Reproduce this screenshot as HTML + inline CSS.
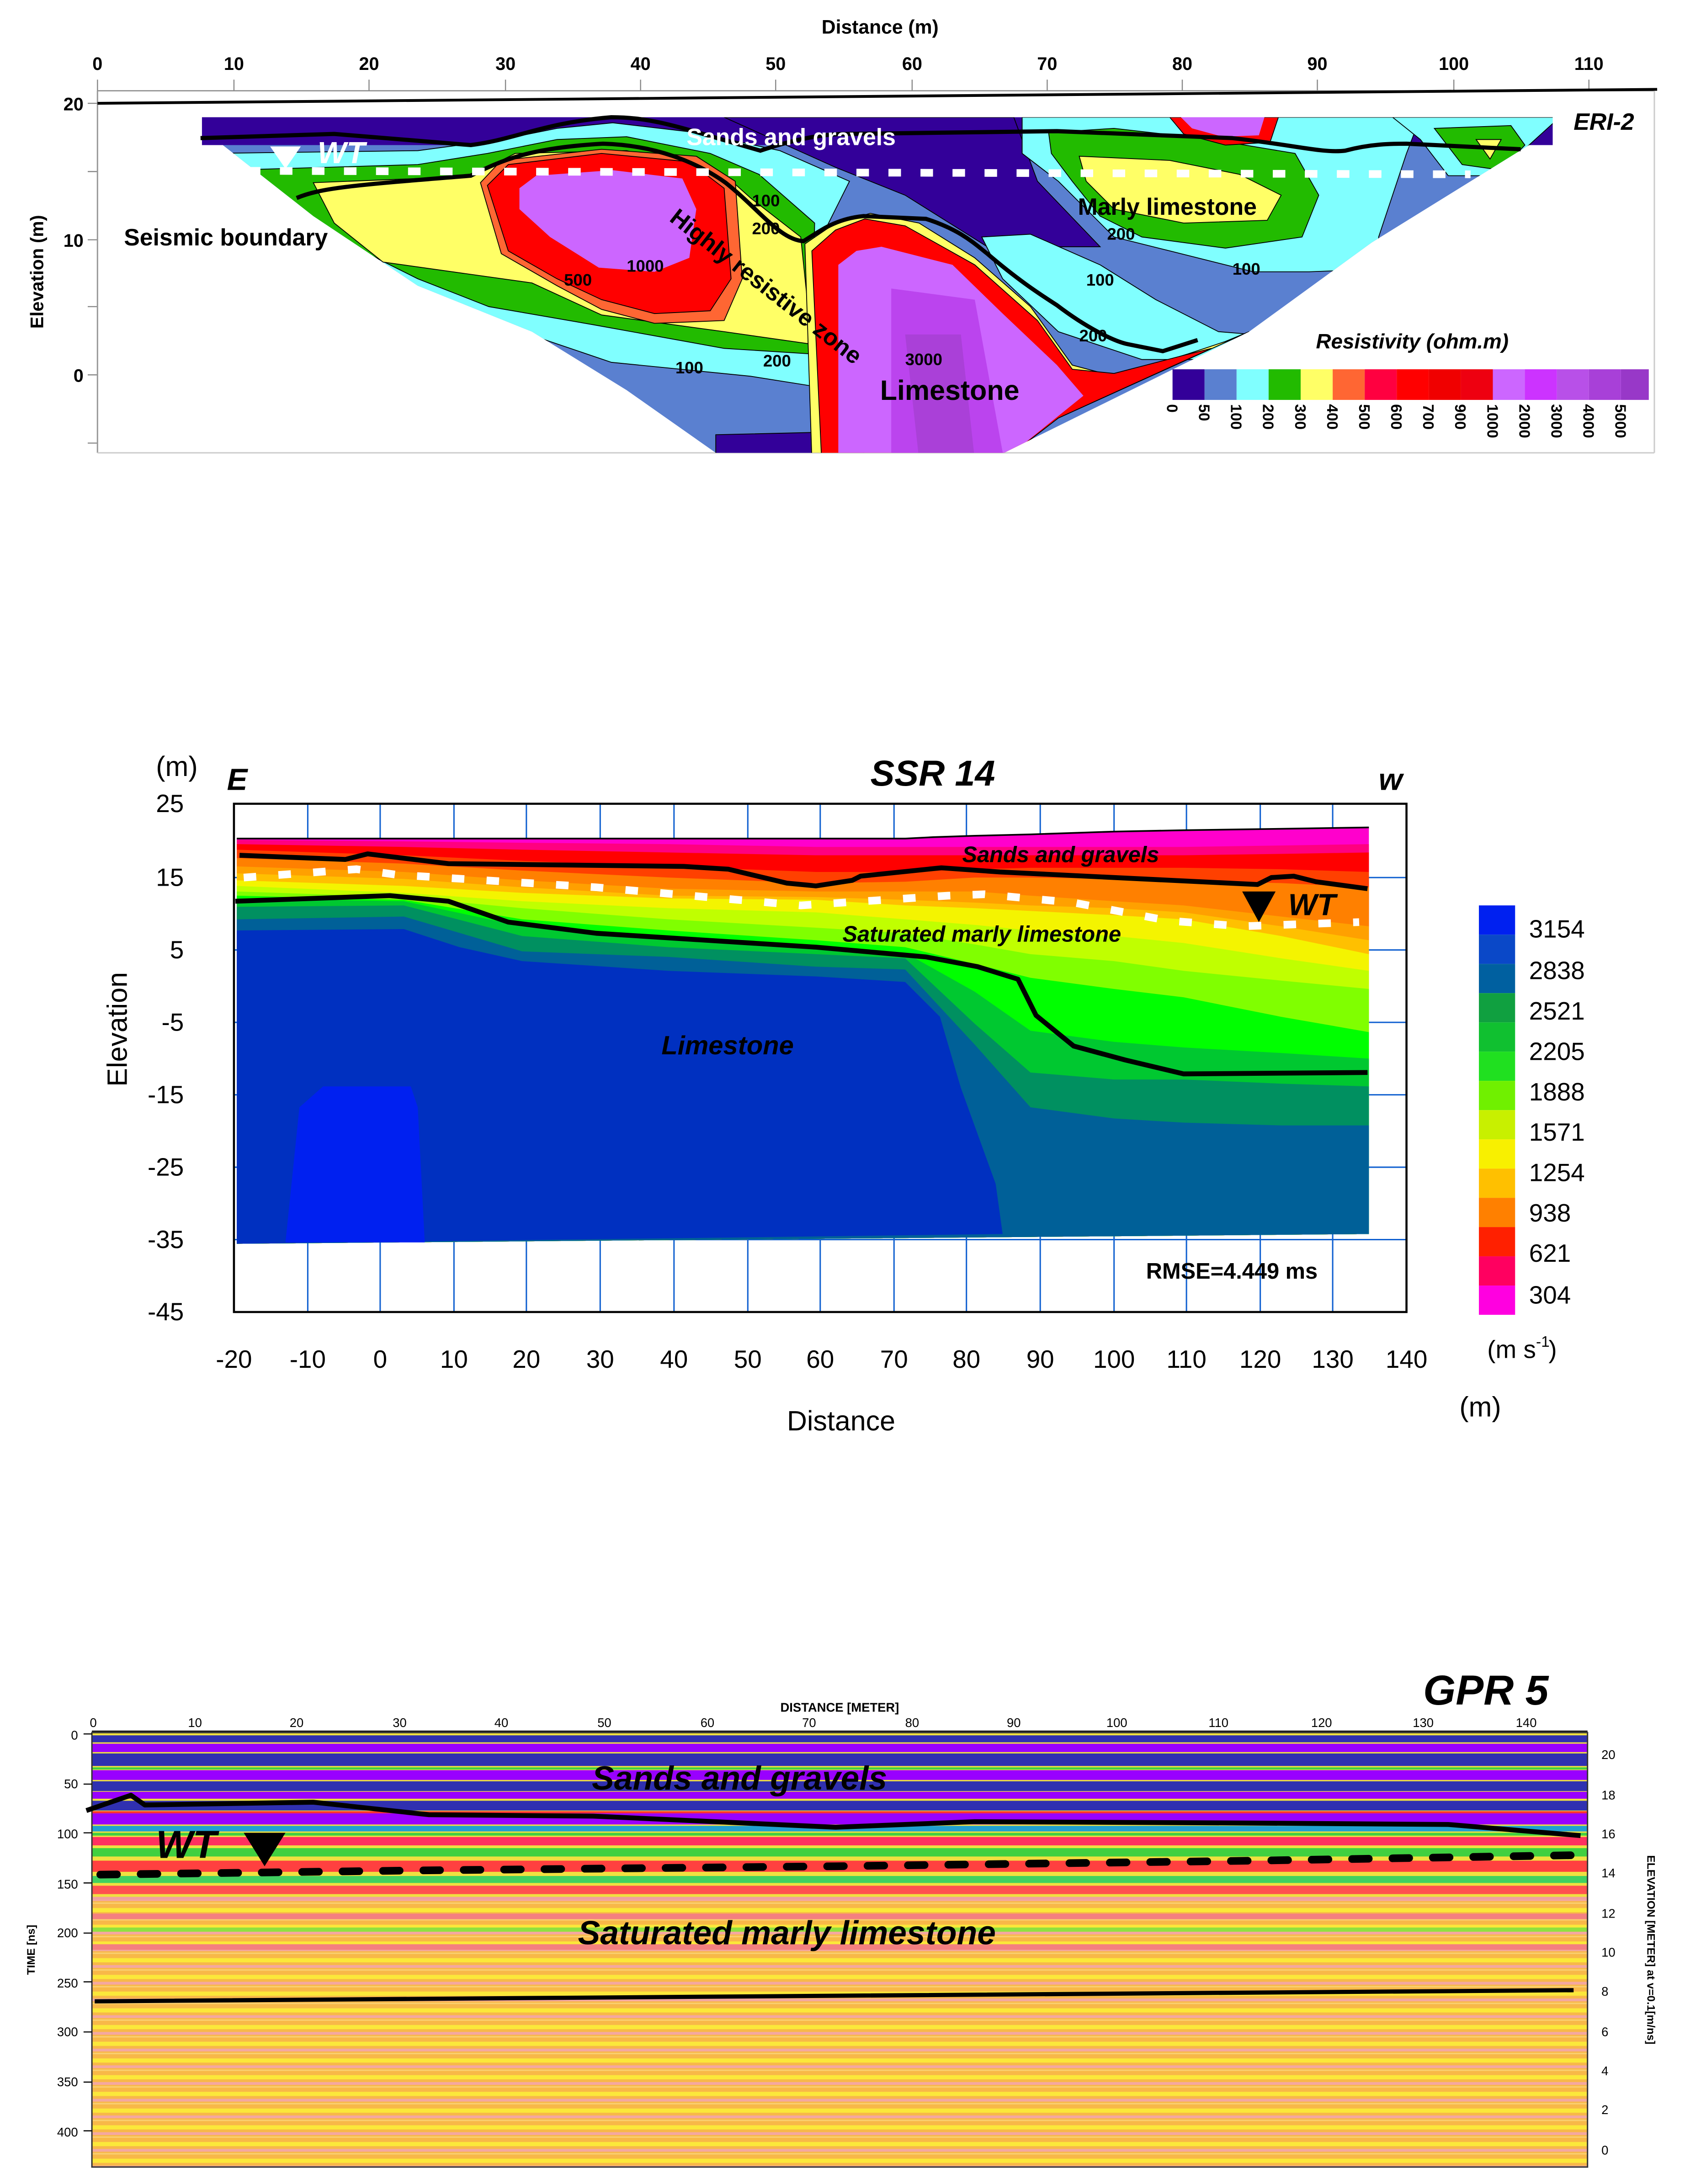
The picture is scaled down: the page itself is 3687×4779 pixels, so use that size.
<!DOCTYPE html>
<html><head><meta charset="utf-8"><style>
html,body{margin:0;padding:0;background:#fff}
svg{display:block}
text{font-family:"Liberation Sans",sans-serif}
</style></head><body>
<svg width="3687" height="4779" viewBox="0 0 1210 1568" xmlns="http://www.w3.org/2000/svg">
<defs>
<pattern id="gprBot" width="20" height="12" patternUnits="userSpaceOnUse">
<rect width="20" height="12" fill="#f8b848"/>
<rect y="2" width="20" height="3" fill="#fbe83a"/>
<rect y="7" width="20" height="2" fill="#f4a8a0"/>
<rect y="10" width="20" height="1" fill="#fad070"/>
</pattern>
<clipPath id="sec"><polygon points="145,84 1115,84 1115,104 1098,104 985,174 897,238 721,325 514,325 450,280 382,238 300,205 225,155 160,104 145,104"/></clipPath>
</defs>

<!-- PANEL 1 -->
<text x="632" y="24" font-size="14" font-weight="bold" text-anchor="middle">Distance (m)</text>
<g font-size="13" font-weight="bold" text-anchor="middle">
<text x="70" y="50">0</text><text x="168" y="50">10</text><text x="265" y="50">20</text><text x="363" y="50">30</text><text x="460" y="50">40</text><text x="557" y="50">50</text><text x="655" y="50">60</text><text x="752" y="50">70</text><text x="849" y="50">80</text><text x="946" y="50">90</text><text x="1044" y="50">100</text><text x="1141" y="50">110</text>
</g>
<g stroke="#888" stroke-width="0.8">
<line x1="70" y1="65" x2="1188" y2="65"/>
<line x1="70" y1="57" x2="70" y2="65"/><line x1="168" y1="57" x2="168" y2="65"/><line x1="265" y1="57" x2="265" y2="65"/><line x1="363" y1="57" x2="363" y2="65"/><line x1="460" y1="57" x2="460" y2="65"/><line x1="557" y1="57" x2="557" y2="65"/><line x1="655" y1="57" x2="655" y2="65"/><line x1="752" y1="57" x2="752" y2="65"/><line x1="849" y1="57" x2="849" y2="65"/><line x1="946" y1="57" x2="946" y2="65"/><line x1="1044" y1="57" x2="1044" y2="65"/><line x1="1141" y1="57" x2="1141" y2="65"/>
<line x1="63" y1="74" x2="70" y2="74"/><line x1="63" y1="172" x2="70" y2="172"/><line x1="63" y1="269" x2="70" y2="269"/>
<line x1="63" y1="123" x2="70" y2="123"/><line x1="63" y1="220" x2="70" y2="220"/><line x1="63" y1="318" x2="70" y2="318"/>
</g>
<g font-size="13" font-weight="bold" text-anchor="end">
<text x="60" y="79">20</text><text x="60" y="177">10</text><text x="60" y="274">0</text>
</g>
<text transform="translate(31,195) rotate(-90)" font-size="13" font-weight="bold" text-anchor="middle">Elevation (m)</text>
<line x1="70" y1="65" x2="70" y2="325" stroke="#999" stroke-width="1"/>
<line x1="70" y1="325" x2="1188" y2="325" stroke="#ccc" stroke-width="1"/>
<line x1="1188" y1="65" x2="1188" y2="325" stroke="#ccc" stroke-width="1"/>
<line x1="70" y1="74" x2="1190" y2="64" stroke="#000" stroke-width="2"/>
<g clip-path="url(#sec)" stroke="#000" stroke-width="0.6">
<rect x="140" y="80" width="1000" height="250" fill="#5a80d0" stroke="none"/>
<rect x="140" y="80" width="1000" height="24" fill="#330099" stroke="none"/>
<polygon points="520,84 728,84 745,130 790,177 709,177 650,140 600,120" fill="#330099"/>
<polygon points="514,312 600,310 627,330 514,330" fill="#330099"/>
<polygon points="150,110 300,108 360,100 400,92 440,88 500,95 560,108 610,130 590,170 585,200 583,277 539,270 439,260 380,240 300,210 225,160 160,115" fill="#80ffff"/>
<polygon points="165,122 300,118 350,110 400,100 450,98 510,110 545,125 585,160 583,254 520,250 426,233 351,220 300,200 230,165" fill="#22bb00"/>
<polygon points="225,131 300,128 338,126 370,110 450,108 520,125 539,142 575,170 583,247 520,238 432,226 382,203 275,188 240,160" fill="#ffff66"/>
<polygon points="345,131 360,115 432,107 500,112 528,130 533,200 520,230 470,232 432,222 400,205 360,182" fill="#ff6633"/>
<polygon points="350,133 365,118 432,110 495,116 520,135 525,200 510,223 470,225 432,215 400,200 365,180" fill="#ff0000"/>
<polygon points="373,135 385,126 440,122 490,128 500,150 495,185 470,195 430,192 395,170 373,150" fill="#cc66ff" stroke="none"/>
<polygon points="734,84 1020,84 1010,110 990,170 991,193 940,195 900,195 840,180 800,170 780,150 760,130 734,110" fill="#80ffff"/>
<polygon points="705,170 740,168 790,190 830,215 875,238 900,240 870,258 820,258 760,238 720,200" fill="#80ffff"/>
<polygon points="753,95 800,92 870,100 930,110 947,140 935,170 880,178 820,170 790,155 770,130 755,110" fill="#22bb00"/>
<polygon points="775,112 840,115 890,125 920,140 910,158 850,160 800,150 780,130" fill="#ffff66"/>
<polygon points="1000,84 1120,84 1098,104 1075,126 1040,126 1020,100" fill="#80ffff"/>
<polygon points="1030,92 1085,90 1095,104 1078,122 1050,118" fill="#22bb00"/>
<polygon points="1060,100 1078,100 1070,114" fill="#ffff66"/>
<polygon points="840,84 918,84 912,102 880,104 850,96" fill="#ff0000"/>
<polygon points="848,84 908,84 904,97 878,98 856,92" fill="#cc66ff" stroke="none"/>
<polygon points="578,175 600,160 625,153 660,160 700,185 740,220 770,262 800,270 853,254 880,245 897,238 760,300 721,330 583,330" fill="#ffff66"/>
<polygon points="583,180 600,165 621,157 650,162 700,190 745,230 770,265 800,268 850,255 870,250 760,300 721,330 590,330" fill="#ff0000"/>
<polygon points="602,190 615,180 633,177 684,190 720,225 759,262 778,284 721,330 602,330" fill="#cc66ff" stroke="none"/>
<polygon points="640,207 700,215 721,330 640,330" fill="#bb44ee" stroke="none"/>
<polygon points="650,240 690,240 700,330 660,330" fill="#aa40d8" stroke="none"/>
</g>
<g fill="none" stroke="#000" stroke-width="3">
<path d="M144,99 L240,96 L338,104 C370,100 390,88 439,84 C470,84 490,92 546,108 C570,100 590,96 608,96 L759,94 L885,99 C930,104 950,110 966,108 C985,103 1000,103 1010,103 L1092,107"/>
<path d="M213,142 C230,135 250,133 338,126 C360,115 380,106 433,103 C470,104 500,116 521,131 C545,150 560,172 577,173 C590,165 600,157 620,155 L665,157 C690,165 700,175 709,182 C730,200 745,210 759,219 C780,235 800,245 810,247 L835,252 L860,244"/>
</g>
<line x1="178" y1="122.5" x2="1056" y2="125" stroke="#fff" stroke-width="5.5" stroke-dasharray="9,14"/>
<polygon points="194,105 216,105 205,121" fill="#fff"/>
<text x="228" y="117" font-size="22" font-style="italic" font-weight="bold" fill="#fff" font-family="Liberation Serif">WT</text>
<g font-weight="bold" font-size="17">
<text x="89" y="176">Seismic boundary</text>
<text x="493" y="104" fill="#fff">Sands and gravels</text>
<text x="774" y="154">Marly limestone</text>
<text x="632" y="287" font-size="20">Limestone</text>
<text transform="translate(480,158) rotate(38)">Highly resistive zone</text>
</g>
<text x="1130" y="93" font-size="17" font-weight="bold" font-style="italic" font-family="Liberation Serif">ERI-2</text>
<text x="945" y="250" font-size="15" font-weight="bold" font-style="italic" font-family="Liberation Serif">Resistivity (ohm.m)</text>
<g font-size="12" font-weight="bold" font-family="Liberation Serif">
<text x="450" y="195">1000</text><text x="540" y="148">100</text><text x="540" y="168">200</text><text x="485" y="268">100</text><text x="548" y="263">200</text><text x="650" y="262">3000</text><text x="885" y="197">100</text><text x="780" y="205">100</text><text x="795" y="172">200</text><text x="775" y="245">200</text><text x="405" y="205">500</text>
</g>
<g>
<rect x="842" y="265" width="23" height="22" fill="#330099"/><rect x="865" y="265" width="23" height="22" fill="#5a80d0"/><rect x="888" y="265" width="23" height="22" fill="#80ffff"/><rect x="911" y="265" width="23" height="22" fill="#22bb00"/><rect x="934" y="265" width="23" height="22" fill="#ffff66"/><rect x="957" y="265" width="23" height="22" fill="#ff6633"/><rect x="980" y="265" width="23" height="22" fill="#ff0040"/><rect x="1003" y="265" width="23" height="22" fill="#ff0000"/><rect x="1026" y="265" width="23" height="22" fill="#f00000"/><rect x="1049" y="265" width="23" height="22" fill="#ee0010"/><rect x="1072" y="265" width="23" height="22" fill="#cc66ff"/><rect x="1095" y="265" width="23" height="22" fill="#cc33ff"/><rect x="1118" y="265" width="23" height="22" fill="#b850e8"/><rect x="1141" y="265" width="23" height="22" fill="#a840d8"/><rect x="1164" y="265" width="20" height="22" fill="#9838c8"/>
</g>
<g font-size="11" font-weight="bold" font-family="Liberation Serif">
<text transform="translate(838,290) rotate(90)">0</text><text transform="translate(861,290) rotate(90)">50</text><text transform="translate(884,290) rotate(90)">100</text><text transform="translate(907,290) rotate(90)">200</text><text transform="translate(930,290) rotate(90)">300</text><text transform="translate(953,290) rotate(90)">400</text><text transform="translate(976,290) rotate(90)">500</text><text transform="translate(999,290) rotate(90)">600</text><text transform="translate(1022,290) rotate(90)">700</text><text transform="translate(1045,290) rotate(90)">900</text><text transform="translate(1068,290) rotate(90)">1000</text><text transform="translate(1091,290) rotate(90)">2000</text><text transform="translate(1114,290) rotate(90)">3000</text><text transform="translate(1137,290) rotate(90)">4000</text><text transform="translate(1160,290) rotate(90)">5000</text>
</g>

<!-- PANEL 2 -->
<g stroke="#1060d0" stroke-width="1">
<line x1="221" y1="577" x2="221" y2="942"/><line x1="273" y1="577" x2="273" y2="942"/><line x1="326" y1="577" x2="326" y2="942"/><line x1="378" y1="577" x2="378" y2="942"/><line x1="431" y1="577" x2="431" y2="942"/><line x1="484" y1="577" x2="484" y2="942"/><line x1="537" y1="577" x2="537" y2="942"/><line x1="589" y1="577" x2="589" y2="942"/><line x1="642" y1="577" x2="642" y2="942"/><line x1="694" y1="577" x2="694" y2="942"/><line x1="747" y1="577" x2="747" y2="942"/><line x1="800" y1="577" x2="800" y2="942"/><line x1="852" y1="577" x2="852" y2="942"/><line x1="905" y1="577" x2="905" y2="942"/><line x1="957" y1="577" x2="957" y2="942"/>
<line x1="168" y1="630" x2="1010" y2="630"/><line x1="168" y1="682" x2="1010" y2="682"/><line x1="168" y1="734" x2="1010" y2="734"/><line x1="168" y1="786" x2="1010" y2="786"/><line x1="168" y1="838" x2="1010" y2="838"/><line x1="168" y1="890" x2="1010" y2="890"/>
</g>
<rect x="168" y="577" width="842" height="365" fill="none" stroke="#000" stroke-width="1.5"/>
<g>
<polygon points="170,602 290,602 375,602 480,602 586,602 650,602 700,600 740,599 800,597 850,596 920,595 983,594 983,886 170,893" fill="#ff00cc"/>
<polygon points="170,603 290,604 375,605 480,606 586,608 650,608 700,608 740,608 800,608 850,608 920,607 983,606 983,886 170,893" fill="#ff0080"/>
<polygon points="170,606 290,608 375,610 480,612 586,614 650,614 700,614 740,614 800,614 850,614 920,613 983,612 983,886 170,893" fill="#ff0000"/>
<polygon points="170,610 290,614 375,618 480,622 586,626 650,626 700,624 740,623 800,623 850,623 920,624 983,626 983,886 170,893" fill="#ff4000"/>
<polygon points="170,616 290,620 375,625 480,630 586,634 650,633 700,630 740,630 800,631 850,632 920,634 983,637 983,886 170,893" fill="#ff8000"/>
<polygon points="170,622 290,626 375,632 480,638 586,640 650,640 700,640 740,643 800,647 850,650 920,658 983,665 983,886 170,893" fill="#ffa000"/>
<polygon points="170,627 290,631 375,637 480,643 586,644 650,646 700,648 740,650 800,652 850,655 920,665 983,675 983,886 170,893" fill="#ffc000"/>
<polygon points="170,632 290,636 375,641 480,645 586,646 650,650 700,652 740,654 800,657 850,660 920,672 983,685 983,886 170,893" fill="#f4f400"/>
<polygon points="170,636 290,641 375,647 480,652 586,655 650,660 700,664 740,668 800,672 850,677 920,688 983,697 983,886 170,893" fill="#c0ff00"/>
<polygon points="170,640 290,644 375,652 480,660 586,666 650,670 700,678 740,685 800,690 850,697 920,704 983,710 983,886 170,893" fill="#80ff00"/>
<polygon points="170,643 290,646 375,660 480,668 586,675 650,680 700,692 740,702 800,710 850,716 920,730 983,741 983,886 170,893" fill="#00ff00"/>
<polygon points="170,645 290,647 375,665 480,674 586,680 650,684 700,712 740,740 800,748 850,752 920,756 983,760 983,886 170,893" fill="#00c830"/>
<polygon points="170,651 290,650 375,672 480,680 586,685 650,688 700,735 740,770 800,775 850,775 920,778 983,780 983,886 170,893" fill="#009060"/>
<polygon points="170,660 290,658 375,683 480,687 586,694 650,696 700,750 740,795 800,803 850,806 920,808 983,808 983,886 170,893" fill="#006098"/>
<polygon points="170,668 290,667 330,680 375,690 480,697 586,701 650,705 675,730 690,781 715,850 720,886 170,893" fill="#0030c0"/>
<polygon points="215,795 232,780 295,780 300,795 305,892 205,892" fill="#0020f0"/>
</g>
<polyline points="170,602 650,602 670,601 700,600 740,599 800,597 850,596 920,595 983,594" fill="none" stroke="#000" stroke-width="1.2"/>
<g fill="none" stroke="#000" stroke-width="3.5" stroke-linejoin="round">
<polyline points="172,614 248,617 264,613 322,620 491,622 523,624 565,634 586,636 612,632 618,629 676,623 718,626 903,635 913,630 929,629 945,633 982,638"/>
<polyline points="169,647 280,643 322,647 365,662 428,670 586,680 665,687 702,694 731,703 744,729 771,751 808,761 850,771 982,770"/>
</g>
<polyline points="175,630 256,624 285,628 428,637 575,650 681,643 707,642 771,648 839,661 892,665 976,662" fill="none" stroke="#fff" stroke-width="5.5" stroke-dasharray="9,16"/>
<polygon points="892,640 916,640 904,662" fill="#000"/>
<text x="925" y="657" font-size="22" font-weight="bold" font-style="italic">WT</text>
<g font-weight="bold" font-style="italic">
<text x="691" y="619" font-size="16">Sands and gravels</text>
<text x="605" y="676" font-size="16">Saturated marly limestone</text>
<text x="475" y="757" font-size="19">Limestone</text>
</g>
<text x="823" y="918" font-size="16" font-weight="bold">RMSE=4.449 ms</text>
<text x="625" y="564" font-size="26" font-weight="bold" font-style="italic" font-family="Liberation Serif">SSR 14</text>
<text x="163" y="567" font-size="22" font-weight="bold" font-style="italic">E</text>
<text x="990" y="567" font-size="22" font-weight="bold" font-style="italic">w</text>
<text x="112" y="557" font-size="20" font-family="Liberation Mono">(m)</text>
<g font-size="18" font-family="Liberation Serif" text-anchor="end">
<text x="132" y="583">25</text><text x="132" y="636">15</text><text x="132" y="688">5</text><text x="132" y="740">-5</text><text x="132" y="792">-15</text><text x="132" y="844">-25</text><text x="132" y="896">-35</text><text x="132" y="948">-45</text>
</g>
<g font-size="18" font-family="Liberation Serif" text-anchor="middle">
<text x="168" y="982">-20</text><text x="221" y="982">-10</text><text x="273" y="982">0</text><text x="326" y="982">10</text><text x="378" y="982">20</text><text x="431" y="982">30</text><text x="484" y="982">40</text><text x="537" y="982">50</text><text x="589" y="982">60</text><text x="642" y="982">70</text><text x="694" y="982">80</text><text x="747" y="982">90</text><text x="800" y="982">100</text><text x="852" y="982">110</text><text x="905" y="982">120</text><text x="957" y="982">130</text><text x="1010" y="982">140</text>
</g>
<text x="604" y="1027" font-size="20" font-family="Liberation Mono" text-anchor="middle">Distance</text>
<text transform="translate(91,739) rotate(-90)" font-size="20" font-family="Liberation Mono" text-anchor="middle">Elevation</text>
<text x="1048" y="1017" font-size="20" font-family="Liberation Mono">(m)</text>
<g>
<rect x="1062" y="650" width="26" height="21" fill="#0020f0"/><rect x="1062" y="671" width="26" height="21" fill="#0a48c8"/><rect x="1062" y="692" width="26" height="21" fill="#0060a0"/><rect x="1062" y="713" width="26" height="21" fill="#10a040"/><rect x="1062" y="734" width="26" height="21" fill="#10c030"/><rect x="1062" y="755" width="26" height="21" fill="#20e020"/><rect x="1062" y="776" width="26" height="21" fill="#70f000"/><rect x="1062" y="797" width="26" height="21" fill="#c8f000"/><rect x="1062" y="818" width="26" height="21" fill="#f8f000"/><rect x="1062" y="839" width="26" height="21" fill="#ffc000"/><rect x="1062" y="860" width="26" height="21" fill="#ff8000"/><rect x="1062" y="881" width="26" height="21" fill="#ff2000"/><rect x="1062" y="902" width="26" height="21" fill="#ff0060"/><rect x="1062" y="923" width="26" height="21" fill="#ff00e0"/>
</g>
<g font-size="18" font-family="Liberation Serif">
<text x="1098" y="673">3154</text><text x="1098" y="703">2838</text><text x="1098" y="732">2521</text><text x="1098" y="761">2205</text><text x="1098" y="790">1888</text><text x="1098" y="819">1571</text><text x="1098" y="848">1254</text><text x="1098" y="877">938</text><text x="1098" y="906">621</text><text x="1098" y="936">304</text>
<text x="1068" y="975">(m s</text><text x="1103" y="967" font-size="11">-1</text><text x="1112" y="975">)</text>
</g>

<!-- PANEL 3 -->
<text x="1022" y="1224" font-size="30" font-weight="bold" font-style="italic" font-family="Liberation Serif">GPR 5</text>
<text x="603" y="1229" font-size="9" font-weight="bold" text-anchor="middle">DISTANCE [METER]</text>
<g font-size="9" text-anchor="middle">
<text x="67" y="1240">0</text><text x="140" y="1240">10</text><text x="213" y="1240">20</text><text x="287" y="1240">30</text><text x="360" y="1240">40</text><text x="434" y="1240">50</text><text x="508" y="1240">60</text><text x="581" y="1240">70</text><text x="655" y="1240">80</text><text x="728" y="1240">90</text><text x="802" y="1240">100</text><text x="875" y="1240">110</text><text x="949" y="1240">120</text><text x="1022" y="1240">130</text><text x="1096" y="1240">140</text>
</g>
<line x1="66" y1="1243" x2="1140" y2="1243" stroke="#000" stroke-width="0.8"/>
<rect x="66" y="1244" width="1074" height="312" fill="url(#gprBot)"/>
<g>
<rect x="66" y="1244" width="1074" height="118" fill="#f0e040"/>
<rect x="66" y="1246" width="1074" height="5" fill="#3030b0"/>
<rect x="66" y="1252" width="1074" height="6" fill="#9900ff"/>
<rect x="66" y="1259" width="1074" height="9" fill="#3030b0"/>
<rect x="66" y="1269" width="1074" height="1.5" fill="#40d040"/>
<rect x="66" y="1271" width="1074" height="7" fill="#9900ff"/>
<rect x="66" y="1279" width="1074" height="7" fill="#3030b0"/>
<rect x="66" y="1286.5" width="1074" height="5" fill="#9900ff"/>
<rect x="66" y="1293" width="1074" height="7" fill="#3030b0"/>
<rect x="66" y="1300.5" width="1074" height="1.5" fill="#ff3030"/>
<rect x="66" y="1302" width="1074" height="8" fill="#9900ff"/>
<rect x="66" y="1311" width="1074" height="4" fill="#20a0d0"/>
<rect x="66" y="1316" width="1074" height="2" fill="#40d040"/>
<rect x="66" y="1319" width="1074" height="6" fill="#ff3060"/>
<rect x="66" y="1327" width="1074" height="6" fill="#40d040"/>
<rect x="66" y="1336" width="1074" height="8" fill="#ff4040"/>
<rect x="66" y="1347" width="1074" height="5" fill="#40d060"/>
<rect x="66" y="1354" width="1074" height="6" fill="#ff5050"/>
<rect x="66" y="1362" width="1074" height="2" fill="#f0a0a0"/>
<rect x="66" y="1374" width="1074" height="4" fill="#f48080"/>
<rect x="66" y="1384" width="1074" height="3" fill="#90e040"/>
<rect x="66" y="1396" width="1074" height="4" fill="#f48080"/>
</g>
<rect x="66" y="1244" width="1074" height="312" fill="none" stroke="#333" stroke-width="1"/>
<g stroke="#000" stroke-width="0.8">
<line x1="60" y1="1245" x2="66" y2="1245"/><line x1="60" y1="1281" x2="66" y2="1281"/><line x1="60" y1="1316" x2="66" y2="1316"/><line x1="60" y1="1352" x2="66" y2="1352"/><line x1="60" y1="1388" x2="66" y2="1388"/><line x1="60" y1="1423" x2="66" y2="1423"/><line x1="60" y1="1459" x2="66" y2="1459"/><line x1="60" y1="1495" x2="66" y2="1495"/><line x1="60" y1="1530" x2="66" y2="1530"/>
</g>
<polyline points="62,1300 94,1289 104,1296 225,1294 308,1303 426,1304 600,1312 700,1308 900,1309 1040,1310 1135,1318" fill="none" stroke="#000" stroke-width="3.5" stroke-linejoin="round"/>
<path d="M72,1346 L300,1343 L600,1340 L900,1336 L1135,1332" fill="none" stroke="#000" stroke-width="5.5" stroke-dasharray="12,17" stroke-linecap="round"/>
<path d="M68,1437 L600,1433 L1130,1429" fill="none" stroke="#000" stroke-width="3"/>
<polygon points="175,1316 205,1316 190,1340" fill="#000"/>
<text x="112" y="1334" font-size="28" font-weight="bold" font-style="italic" font-family="Liberation Serif">WT</text>
<text x="425" y="1285" font-size="24" font-weight="bold" font-style="italic">Sands and gravels</text>
<text x="415" y="1396" font-size="24" font-weight="bold" font-style="italic">Saturated marly limestone</text>
<g font-size="9" text-anchor="end">
<text x="56" y="1249">0</text><text x="56" y="1284">50</text><text x="56" y="1320">100</text><text x="56" y="1356">150</text><text x="56" y="1391">200</text><text x="56" y="1427">250</text><text x="56" y="1462">300</text><text x="56" y="1498">350</text><text x="56" y="1534">400</text>
</g>
<text transform="translate(25,1400) rotate(-90)" font-size="8" font-weight="bold" text-anchor="middle">TIME [ns]</text>
<g font-size="9">
<text x="1150" y="1263">20</text><text x="1150" y="1292">18</text><text x="1150" y="1320">16</text><text x="1150" y="1348">14</text><text x="1150" y="1377">12</text><text x="1150" y="1405">10</text><text x="1150" y="1433">8</text><text x="1150" y="1462">6</text><text x="1150" y="1490">4</text><text x="1150" y="1518">2</text><text x="1150" y="1547">0</text>
</g>
<text transform="translate(1183,1400) rotate(90)" font-size="8" font-weight="bold" text-anchor="middle">ELEVATION [METER] at v=0.1[m/ns]</text>
</svg>
</body></html>
